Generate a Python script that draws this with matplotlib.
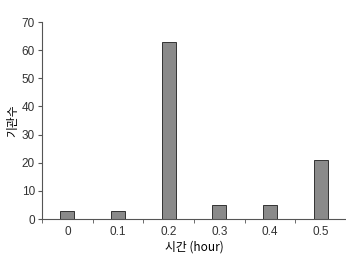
import matplotlib
matplotlib.use('Agg')
import matplotlib.pyplot as plt
import numpy as np

plt.rcParams['font.family'] = ['Liberation Sans', 'Noto Sans CJK KR']
plt.rcParams['text.color'] = '#333333'
plt.rcParams['xtick.labelcolor'] = '#333333'
plt.rcParams['ytick.labelcolor'] = '#333333'

# data
categories = ['0', '0.1', '0.2', '0.3', '0.4', '0.5']
counts = [3, 3, 63, 5, 5, 21]

fig = plt.figure(figsize=(3.46, 2.56), dpi=100)
ax = fig.add_axes([42 / 346, 1 - 219 / 256, 1 - 42 / 346, (219 - 22) / 256])

x = np.arange(len(categories))
ax.bar(x, counts, width=0.27, color='#8a8a8a', edgecolor='#333333', linewidth=0.7)

ax.set_xlim(-0.5, len(categories) - 0.5)
ax.set_ylim(0, 70)
ax.set_yticks(range(0, 71, 10))

# category labels centered, tick marks between categories
ax.set_xticks(x)
ax.set_xticklabels(categories)
ax.tick_params(axis='x', which='major', length=0, labelsize=8.5, pad=5)
ax.set_xticks(np.arange(-0.5, len(categories), 1), minor=True)
ax.tick_params(axis='x', which='minor', length=3, direction='out', color='#555555')
ax.tick_params(axis='y', length=3, direction='out', labelsize=8.5, color='#555555', pad=2)

for s in ['top', 'right']:
    ax.spines[s].set_visible(False)
for s in ['left', 'bottom']:
    ax.spines[s].set_color('#555555')
    ax.spines[s].set_linewidth(0.8)

ax.set_xlabel('시간 (hour)', fontsize=8.5, labelpad=2, family=['Noto Sans CJK KR', 'Liberation Sans'])
ax.set_ylabel('기관수', fontsize=8.5, labelpad=2, family=['Noto Sans CJK KR', 'Liberation Sans'])

fig.savefig('out.png', dpi=100)
